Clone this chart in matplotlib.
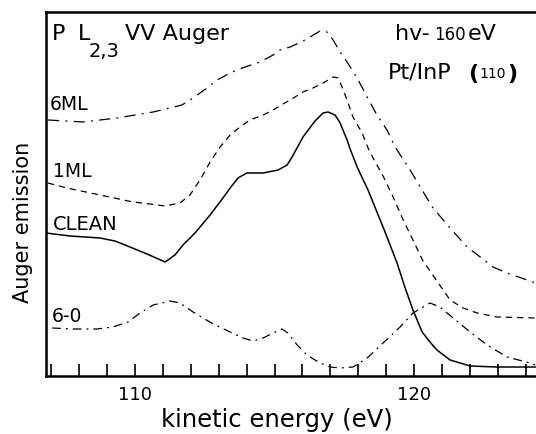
import numpy as np
import matplotlib
matplotlib.use("Agg")
import matplotlib.pyplot as plt

# kinetic energy (eV) and Auger emission (arb. units)
clean_e = [106.81, 107.67, 108.75, 109.28, 109.82, 110.43, 111.08, 111.43, 111.72,
           112.15, 112.69, 113.15, 113.41, 113.69, 114.01, 114.59, 115.13, 115.45,
           115.63, 116.02, 116.45, 116.74, 116.92, 117.17, 117.35, 117.60, 117.71,
           117.96, 118.35, 118.96, 119.39, 119.68, 119.96, 120.29, 120.57, 120.82,
           121.29, 122.01, 122.97, 124.34]
clean_i = [143, 140, 138, 135, 129, 122, 114, 121, 131,
           143, 161, 178, 188, 198, 203, 203, 206, 211,
           219, 239, 255, 263, 264, 261, 253, 236, 227,
           209, 186, 144, 113, 88, 66, 44, 34, 26,
           16, 10, 9, 9]

ml1_e = [106.88, 107.56, 108.75, 109.93, 110.54, 111.08, 111.61, 111.97, 112.33,
         112.69, 113.05, 113.41, 113.76, 114.12, 114.59, 114.95, 115.30, 115.56,
         116.02, 116.38, 116.74, 117.10, 117.28, 117.42, 117.60, 117.81, 118.14,
         118.35, 118.53, 118.89, 119.25, 119.61, 119.96, 120.32, 120.82, 121.29,
         121.76, 122.26, 122.97, 124.34]
ml1_i = [193, 188, 181, 174, 172, 170, 173, 181, 196,
         214, 229, 241, 249, 256, 261, 266, 272, 276,
         284, 288, 293, 299, 298, 289, 276, 259, 243,
         228, 218, 200, 179, 156, 136, 115, 95, 76,
         68, 63, 59, 58]

ml6_e = [106.88, 108.14, 109.35, 110.65, 111.25, 111.68, 112.08, 112.58, 112.94,
         113.41, 113.84, 114.48, 114.95, 115.20, 115.56, 116.02, 116.27, 116.63,
         116.88, 117.10, 117.35, 117.60, 117.96, 118.32, 118.67, 119.03, 119.32,
         119.86, 120.22, 120.68, 121.29, 121.90, 122.37, 122.83, 123.33, 124.05,
         124.34]
ml6_i = [256, 254, 258, 264, 268, 271, 278, 288, 296,
         303, 308, 314, 321, 326, 329, 335, 339, 345,
         344, 336, 324, 314, 298, 279, 261, 246, 229,
         206, 189, 168, 148, 129, 119, 109, 103, 96,
         93]

diff_e = [107.03, 107.78, 108.64, 109.21, 109.75, 110.18, 110.65, 111.25, 111.61,
          112.08, 112.80, 113.41, 113.87, 114.23, 114.59, 114.95, 115.27, 115.48,
          115.81, 116.16, 116.63, 116.99, 117.35, 117.81, 118.32, 118.89, 119.50,
          119.96, 120.57, 120.93, 121.40, 122.01, 122.62, 123.33, 124.16, 124.34]
diff_i = [48, 47, 47, 49, 54, 63, 71, 75, 73,
          64, 52, 44, 38, 35, 38, 43, 47, 43,
          31, 21, 13, 9, 8, 9, 18, 33, 49,
          63, 73, 69, 58, 44, 31, 19, 13, 11]

W, H = 536, 434
fig = plt.figure(figsize=(W / 100, H / 100), dpi=100)
ax = fig.add_axes([46 / W, 58 / H, 490 / W, 364 / H])

ax.plot(clean_e, clean_i, color="black", lw=1.1)
ax.plot(ml1_e, ml1_i, color="black", lw=0.9, linestyle=(0, (5, 4)))
ax.plot(ml6_e, ml6_i, color="black", lw=0.9, linestyle=(0, (9, 5, 1.5, 5)))
ax.plot(diff_e, diff_i, color="black", lw=0.9, linestyle=(0, (7, 4, 1.5, 4)))

ax.set_xlim(106.81, 124.37)
ax.set_ylim(0, 364)

ticks = list(range(107, 125))
ax.set_xticks(ticks)
ax.set_xticklabels([str(t) if t in (110, 120) else "" for t in ticks], fontsize=13)
ax.tick_params(axis="x", direction="in", length=9, width=1.2, pad=7)
ax.set_yticks([])
ax.spines["right"].set_visible(False)
for s in ["left", "bottom", "top"]:
    ax.spines[s].set_linewidth(1.8)


def ftext(px, py, s, size, **kw):
    # place text by pixel position (left x, baseline y) in the figure
    fig.text(px / W, (H - py) / H, s, fontsize=size, va="baseline", **kw)


ftext(52, 40, "P", 16)
ftext(78, 40, "L", 16)
ftext(89, 57, "2,3", 14)
ftext(125, 40, "VV Auger", 16)

ftext(395, 40, "hv-", 16)
ftext(434, 40, "160", 12)
ftext(468, 40, "eV", 16)

ftext(388, 78, "Pt/InP", 16)
ftext(468, 80, "(", 16, fontweight="bold")
ftext(479, 78, "110", 10)
ftext(507, 80, ")", 16, fontweight="bold")

ftext(50, 110, "6ML", 13.5)
ftext(53, 177, "1ML", 13.5)
ftext(53, 230, "CLEAN", 14)
ftext(52, 322, "6-0", 13.5)

fig.text(277 / W, (H - 420) / H, "kinetic energy (eV)", fontsize=17.5,
         ha="center", va="center")
fig.text(23 / W, (H - 222) / H, "Auger emission", fontsize=15, rotation=90,
         ha="center", va="center")

fig.savefig("out.png", dpi=100)
